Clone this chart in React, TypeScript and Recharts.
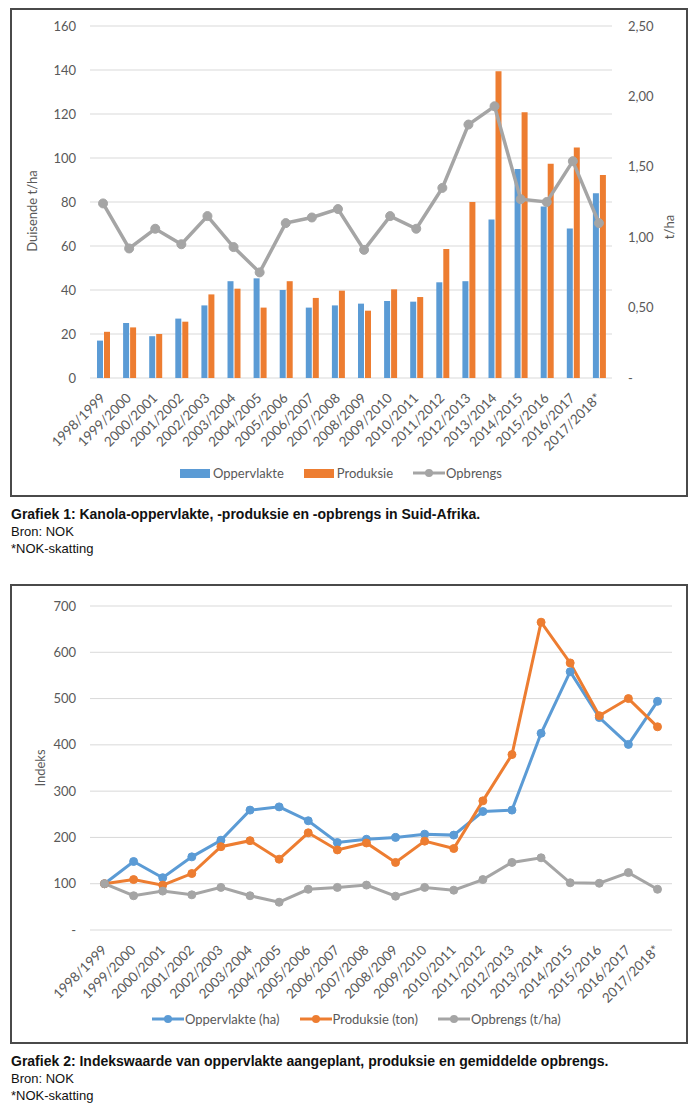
import React from "react";
import {
  ComposedChart,
  LineChart,
  Bar,
  Line,
  XAxis,
  YAxis,
  CartesianGrid,
} from "recharts";

const seasons = [
  "1998/1999", "1999/2000", "2000/2001", "2001/2002", "2002/2003",
  "2003/2004", "2004/2005", "2005/2006", "2006/2007", "2007/2008",
  "2008/2009", "2009/2010", "2010/2011", "2011/2012", "2012/2013",
  "2013/2014", "2014/2015", "2015/2016", "2016/2017", "2017/2018*",
];

// Grafiek 1 (duisende ha / duisende ton, opbrengs t/ha)
const oppervlakte = [17, 25, 19, 27, 33, 44, 45.3, 40, 32, 33, 33.8, 35, 34.7, 43.5, 44, 72, 95, 78, 68, 84];
const produksie = [21, 23, 20, 25.6, 38, 40.6, 32, 44, 36.4, 39.7, 30.6, 40.3, 36.8, 58.6, 80, 139.4, 120.8, 97.4, 104.8, 92.3];
const opbrengs = [1.24, 0.92, 1.06, 0.95, 1.15, 0.93, 0.75, 1.1, 1.14, 1.2, 0.91, 1.15, 1.06, 1.35, 1.8, 1.93, 1.27, 1.25, 1.54, 1.1];

// Grafiek 2 (indeks, 1998/1999 = 100)
const indeksOppervlakte = [100, 148, 113, 158, 194, 259, 266, 236, 189, 196, 200, 207, 205, 256, 259, 425, 558, 459, 401, 494];
const indeksProduksie = [100, 109, 97, 122, 180, 193, 153, 210, 173, 188, 146, 192, 176, 279, 379, 665, 577, 463, 500, 439];
const indeksOpbrengs = [100, 74, 84, 76, 92, 74, 60, 88, 92, 97, 73, 92, 86, 109, 146, 156, 102, 101, 124, 88];

const leftTicks1 = [0, 20, 40, 60, 80, 100, 120, 140, 160];
const rightTicks1 = [0, 0.5, 1, 1.5, 2, 2.5];
const ticks2 = [0, 100, 200, 300, 400, 500, 600, 700];

const BLUE = "#5B9BD5";
const ORANGE = "#ED7D31";
const GRAY = "#A5A5A5";
const TXT = "#595959";
const GRID = "#D9D9D9";
const FONT = "Lato, 'Open Sans', sans-serif";
const CAPTION_FONT = "'Liberation Sans', Arial, sans-serif";

const data1 = seasons.map((s, i) => ({
  season: s,
  oppervlakte: oppervlakte[i],
  produksie: produksie[i],
  opbrengs: opbrengs[i],
}));

const data2 = seasons.map((s, i) => ({
  season: s,
  opp: indeksOppervlakte[i],
  prod: indeksProduksie[i],
  opbr: indeksOpbrengs[i],
}));

const tickStyle = { fill: TXT, fontSize: 13, fontFamily: FONT };

const SeasonTick = (props: any) => {
  const { x, y, payload } = props;
  const ax = x + 3;
  const ay = y + 21;
  return (
    <text
      x={ax}
      y={ay}
      transform={`rotate(-45 ${ax} ${ay})`}
      textAnchor="end"
      fill={TXT}
      fontSize={13.5}
      fontFamily={FONT}
    >
      {payload.value}
    </text>
  );
};

const axisTitle = (text: string, x: number, y: number) => () =>
  (
    <text
      x={x}
      y={y}
      transform={`rotate(-90 ${x} ${y})`}
      textAnchor="middle"
      dominantBaseline="central"
      fill={TXT}
      fontSize={13}
      fontFamily={FONT}
    >
      {text}
    </text>
  );

const commaFmt = (v: number) => (v === 0 ? "-" : v.toFixed(2).replace(".", ","));
const dashZero = (v: number) => (v === 0 ? "-" : String(v));

function BarKey({ color, label }: { color: string; label: string }) {
  return (
    <div style={{ display: "flex", alignItems: "center", marginRight: 20 }}>
      <div style={{ width: 30, height: 9, background: color }} />
      <span style={{ marginLeft: 3 }}>{label}</span>
    </div>
  );
}

function LineKey({ color, label }: { color: string; label: string }) {
  return (
    <div style={{ display: "flex", alignItems: "center", marginRight: 20 }}>
      <svg width={32} height={10}>
        <line x1={0} y1={5} x2={32} y2={5} stroke={color} strokeWidth={3} />
        <circle cx={16} cy={5} r={4} fill={color} />
      </svg>
      <span style={{ marginLeft: 1 }}>{label}</span>
    </div>
  );
}

const legendRow: React.CSSProperties = {
  position: "absolute",
  display: "flex",
  alignItems: "center",
  height: 18,
  fontFamily: FONT,
  fontSize: 13,
  color: TXT,
  whiteSpace: "nowrap",
};

const box: React.CSSProperties = {
  position: "absolute",
  left: 10,
  width: 678,
  border: "2px solid #4a4a4a",
  boxSizing: "border-box",
};

const caption: React.CSSProperties = {
  position: "absolute",
  left: 11,
  fontFamily: CAPTION_FONT,
  color: "#111",
  lineHeight: "17px",
  fontSize: 13,
  whiteSpace: "nowrap",
};

export default function App() {
  return (
    <div
      style={{
        position: "absolute",
        left: 0,
        top: 0,
        width: 700,
        height: 1107,
        background: "#fff",
        overflow: "hidden",
      }}
    >
      <div style={{ ...box, top: 8, height: 489 }} />
      <div style={{ position: "absolute", left: 0, top: 0 }}>
        <ComposedChart
          width={700}
          height={500}
          data={data1}
          margin={{ top: 26, right: 28, left: 40, bottom: 52 }}
          barGap={1}
        >
          <CartesianGrid vertical={false} stroke={GRID} yAxisId="left" />
          <XAxis
            dataKey="season"
            interval={0}
            height={70}
            axisLine={false}
            tickLine={false}
            tickSize={0}
            tickMargin={0}
            tick={<SeasonTick />}
          />
          <YAxis
            yAxisId="left"
            width={50}
            domain={[0, 160]}
            ticks={leftTicks1}
            axisLine={false}
            tickLine={false}
            tickSize={0}
            tickMargin={14}
            tick={tickStyle}
            label={axisTitle("Duisende t/ha", 32, 211)}
          />
          <YAxis
            yAxisId="right"
            orientation="right"
            width={60}
            domain={[0, 2.5]}
            ticks={rightTicks1}
            tickFormatter={commaFmt}
            axisLine={false}
            tickLine={false}
            tickSize={0}
            tickMargin={16}
            tick={{ ...tickStyle, textAnchor: "start" }}
            label={axisTitle("t/ha", 669, 227)}
          />
          <Bar yAxisId="left" dataKey="oppervlakte" fill={BLUE} barSize={6} isAnimationActive={false} />
          <Bar yAxisId="left" dataKey="produksie" fill={ORANGE} barSize={6} isAnimationActive={false} />
          <Line
            yAxisId="right"
            dataKey="opbrengs"
            stroke={GRAY}
            strokeWidth={3.5}
            dot={{ r: 4.5, fill: GRAY, stroke: GRAY, strokeWidth: 1 }}
            activeDot={false}
            isAnimationActive={false}
          />
        </ComposedChart>
      </div>
      <div style={{ ...legendRow, left: 180, top: 464 }}>
        <BarKey color={BLUE} label="Oppervlakte" />
        <BarKey color={ORANGE} label="Produksie" />
        <LineKey color={GRAY} label="Opbrengs" />
      </div>

      <div style={{ ...caption, top: 506 }}>
        <div style={{ fontWeight: "bold", fontSize: 14 }}>
          Grafiek 1: Kanola-oppervlakte, -produksie en -opbrengs in Suid-Afrika.
        </div>
        <div>Bron: NOK</div>
        <div>*NOK-skatting</div>
      </div>

      <div style={{ ...box, top: 584, height: 460 }} />
      <div style={{ position: "absolute", left: 0, top: 583 }}>
        <LineChart
          width={700}
          height={470}
          data={data2}
          margin={{ top: 23, right: 28, left: 40, bottom: 53 }}
        >
          <CartesianGrid vertical={false} stroke={GRID} />
          <XAxis
            dataKey="season"
            interval={0}
            height={70}
            padding={{ left: 14.5, right: 14.5 }}
            axisLine={false}
            tickLine={false}
            tickSize={0}
            tickMargin={0}
            tick={<SeasonTick />}
          />
          <YAxis
            width={50}
            domain={[0, 700]}
            ticks={ticks2}
            tickFormatter={dashZero}
            axisLine={false}
            tickLine={false}
            tickSize={0}
            tickMargin={14}
            tick={tickStyle}
            label={axisTitle("Indeks", 40, 185)}
          />
          <Line
            dataKey="opp"
            stroke={BLUE}
            strokeWidth={3}
            dot={{ r: 4, fill: BLUE, stroke: BLUE, strokeWidth: 1 }}
            activeDot={false}
            isAnimationActive={false}
          />
          <Line
            dataKey="prod"
            stroke={ORANGE}
            strokeWidth={3}
            dot={{ r: 4, fill: ORANGE, stroke: ORANGE, strokeWidth: 1 }}
            activeDot={false}
            isAnimationActive={false}
          />
          <Line
            dataKey="opbr"
            stroke={GRAY}
            strokeWidth={3}
            dot={{ r: 4, fill: GRAY, stroke: GRAY, strokeWidth: 1 }}
            activeDot={false}
            isAnimationActive={false}
          />
        </LineChart>
      </div>
      <div style={{ ...legendRow, left: 152, top: 1010 }}>
        <LineKey color={BLUE} label="Oppervlakte (ha)" />
        <LineKey color={ORANGE} label="Produksie (ton)" />
        <LineKey color={GRAY} label="Opbrengs (t/ha)" />
      </div>

      <div style={{ ...caption, top: 1053 }}>
        <div style={{ fontWeight: "bold", fontSize: 14 }}>
          Grafiek 2: Indekswaarde van oppervlakte aangeplant, produksie en gemiddelde opbrengs.
        </div>
        <div>Bron: NOK</div>
        <div>*NOK-skatting</div>
      </div>
    </div>
  );
}
